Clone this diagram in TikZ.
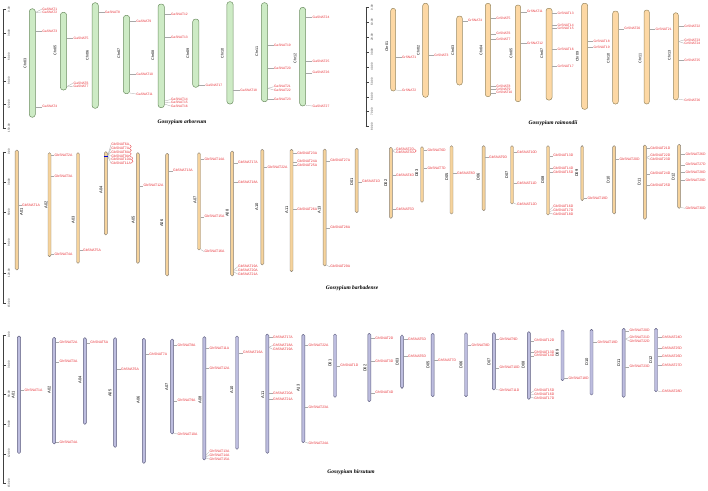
\documentclass[tikz,border=0pt]{standalone}
\usepackage{fontspec}
\setmainfont{Liberation Sans}
\setsansfont{Liberation Sans}
\newfontfamily\lsans{Liberation Sans}
\newfontfamily\serifttl{Liberation Serif}
\definecolor{gfill}{HTML}{CDEBC5}
\definecolor{gdraw}{HTML}{6E8F63}
\definecolor{ofill}{HTML}{FDD8A4}
\definecolor{odraw}{HTML}{9A8A62}
\definecolor{tfill}{HTML}{F6D39C}
\definecolor{tdraw}{HTML}{8C8478}
\definecolor{lfill}{HTML}{BDBDDF}
\definecolor{ldraw}{HTML}{5F5F80}
\definecolor{snred}{HTML}{E8343A}
\definecolor{lead}{HTML}{A8A8A8}
\newcommand\chr[6]{%
  \pgfmathsetmacro\chh{#5-#4}%
  \pgfmathsetmacro\chc{(#4+#5)/2}%
  \node[#6, minimum width=#3pt, minimum height=\chh pt] (#1) at (#2,\chc) {};}
\newcommand\clab[4]{\node[clabel] (#1l) at (#2,#3) {#4};}
\newcommand\gn[5]{%
  \coordinate (yy) at (0,#2);
  \coordinate (#5c) at (#1.east |- yy);
  \node[glab] (#5) at (#3,#4) {#5};
  \draw[leader] (#5c) -- (#5.west);}
\newcommand\rtick[4]{% name, x, y, text
  \coordinate (#1) at (#2,#3);
  \draw[ruler] (#1) -- ++(3.5,0);
  \node[rlabel] (#1t) at (#2+6.3,#3) {#4};}
\tikzset{
  garb/.style={draw=gdraw, fill=gfill, line width=0.5pt, rounded corners=2.9pt, inner sep=0pt},
  grai/.style={draw=odraw, fill=ofill, line width=0.5pt, rounded corners=2.5pt, inner sep=0pt},
  gbar/.style={draw=tdraw, fill=tfill, line width=0.45pt, rounded corners=1.4pt, inner sep=0pt},
  ghir/.style={draw=ldraw, fill=lfill, line width=0.45pt, rounded corners=1.4pt, inner sep=0pt},
  glab/.style={text=snred, font=\lsans\fontsize{3.3}{3.3}\selectfont, anchor=west, inner sep=0.2pt},
  clabel/.style={rotate=90, font=\lsans\fontsize{3.7}{3.7}\selectfont, inner sep=0pt},
  leader/.style={draw=lead, line width=0.3pt},
  ruler/.style={draw=black!75, line width=0.4pt},
  rlabel/.style={rotate=90, font=\lsans\fontsize{2.8}{2.8}\selectfont, inner sep=0pt, text=black!80},
  ttl/.style={font=\serifttl\bfseries\itshape\fontsize{5.5}{5.5}\selectfont, inner sep=0pt},
  dup/.style={draw=snred, line width=0.3pt}
}
\begin{document}
\begin{tikzpicture}[x=1pt,y=-1pt]
\useasboundingbox (0,0) rectangle (708,490);
\fill[white] (0,0) rectangle (708,490);

% ================= Panel 1: G. arboreum =================
\draw[ruler] (2.7,9.3) -- (2.7,128);
\rtick{ra1}{2.7}{9.3}{0.00}
\rtick{ra2}{2.7}{33}{30.00}
\rtick{ra3}{2.7}{56.7}{60.00}
\rtick{ra4}{2.7}{80.7}{90.00}
\rtick{ra5}{2.7}{104.3}{120.00}
\rtick{ra6}{2.7}{128}{150.00}

\chr{C3a}{32.3}{6}{8.7}{117.3}{garb}   \clab{C3a}{25}{63}{Chr03}
\chr{C5a}{63.5}{6.3}{12.3}{90}{garb}   \clab{C5a}{55}{50}{Chr05}
\chr{C6a}{95.2}{6.3}{2.7}{108.3}{garb} \clab{C6a}{87.3}{55}{Chr06}
\chr{C7a}{126.5}{6.3}{15.3}{93.7}{garb} \clab{C7a}{118.7}{53}{Chr07}
\chr{C8a}{161.2}{6.3}{4}{107.7}{garb}  \clab{C8a}{152.7}{55}{Chr08}
\chr{C9a}{195.8}{6.3}{19}{87.3}{garb}  \clab{C9a}{187.7}{53}{Chr09}
\chr{C10a}{230}{6.3}{1.7}{104}{garb}   \clab{C10a}{222.3}{53}{Chr10}
\chr{C11a}{264.5}{6.3}{2.7}{101.7}{garb} \clab{C11a}{256.7}{51.7}{Chr11}
\chr{C12a}{302.7}{6}{7.3}{106}{garb}   \clab{C12a}{295}{58.3}{Chr12}

\gn{C3a}{12.5}{42}{9}{GaSNAT1}
\gn{C3a}{12.5}{42}{12}{GaSNAT2}
\gn{C3a}{31}{42}{31}{GaSNAT3}
\gn{C3a}{106.7}{42}{106.7}{GaSNAT4}
\gn{C5a}{38}{73.3}{38}{GaSNAT5}
\gn{C5a}{86.5}{73.3}{83}{GaSNAT6}
\gn{C5a}{86.5}{73.3}{86.3}{GaSNAT7}
\gn{C6a}{12.3}{104.7}{12.3}{GaSNAT8}
\gn{C7a}{21}{136}{21}{GaSNAT9}
\gn{C7a}{74}{136}{74}{GaSNAT10}
\gn{C7a}{93}{136}{94}{GaSNAT11}
\gn{C8a}{14}{170.7}{14}{GaSNAT12}
\gn{C8a}{37}{170.7}{37}{GaSNAT13}
\gn{C8a}{101}{170.7}{99.5}{GaSNAT14}
\gn{C8a}{102.5}{170.7}{102.8}{GaSNAT15}
\gn{C8a}{104}{170.7}{106.1}{GaSNAT16}
\gn{C9a}{85}{205.3}{85}{GaSNAT17}
\gn{C10a}{90}{240}{90}{GaSNAT18}
\gn{C11a}{45}{273.7}{45}{GaSNAT19}
\gn{C11a}{68.3}{273.7}{68.3}{GaSNAT20}
\gn{C11a}{88.3}{273.7}{86.7}{GaSNAT21}
\gn{C11a}{88.3}{273.7}{89.9}{GaSNAT22}
\gn{C11a}{99}{273.7}{99}{GaSNAT23}
\gn{C12a}{17}{312.3}{17}{GaSNAT24}
\gn{C12a}{61}{312.3}{61}{GaSNAT25}
\gn{C12a}{72.7}{312.3}{72.7}{GaSNAT26}
\gn{C12a}{105.3}{312.3}{106}{GaSNAT27}

\node[ttl] (t1) at (182,122) {Gossypium arboreum};

% right ruler (raimondii scale)
\draw[ruler] (365.7,7.3) -- (365.7,126.7);
\rtick{rb1}{365.7}{7.3}{0.00}
\rtick{rb2}{365.7}{22.2}{10.00}
\rtick{rb3}{365.7}{37.1}{20.00}
\rtick{rb4}{365.7}{52}{30.00}
\rtick{rb5}{365.7}{66.9}{40.00}
\rtick{rb6}{365.7}{81.8}{50.00}
\rtick{rb7}{365.7}{96.7}{60.00}
\rtick{rb8}{365.7}{111.6}{70.00}
\rtick{rb9}{365.7}{126.5}{80.00}

% ================= Panel 2: G. raimondii =================
\chr{R1}{393.2}{5}{8.3}{91}{grai}     \clab{R1}{386.7}{46.7}{Chr01}
\chr{R2}{425.5}{5.6}{3.3}{97.3}{grai} \clab{R2}{418.3}{50}{Chr02}
\chr{R3}{459.5}{5.6}{16}{85}{grai}    \clab{R3}{452.7}{50}{Chr03}
\chr{R4}{488}{5.4}{3.3}{96.7}{grai}   \clab{R4}{481}{50}{Chr04}
\chr{R5}{518}{5.4}{5}{101.7}{grai}    \clab{R5}{511}{53}{Chr05}
\chr{R6}{549}{6}{8.3}{100}{grai}      \clab{R6}{541.7}{53}{Chr07}
\chr{R7}{584.7}{6}{3.3}{109.3}{grai}  \clab{R7}{577.3}{56.7}{Chr09}
\chr{R8}{615.5}{5.6}{11}{104}{grai}   \clab{R8}{608.3}{58.3}{Chr10}
\chr{R9}{646.7}{5.3}{10}{104}{grai}   \clab{R9}{640}{58.3}{Chr11}
\chr{R10}{675.8}{5}{12.7}{100}{grai}  \clab{R10}{669.3}{55}{Chr13}

\gn{R1}{57.3}{401.7}{57.3}{GrSNAT1}
\gn{R1}{90}{401.7}{90.7}{GrSNAT2}
\gn{R2}{55}{434}{55}{GrSNAT3}
\gn{R3}{20.7}{467.7}{20.7}{GrSNAT4}
\gn{R4}{18.3}{496}{18.3}{GrSNAT5}
\gn{R4}{33.7}{496}{33.7}{GrSNAT6}
\gn{R4}{39.3}{496}{39.3}{GrSNAT7}
\gn{R4}{86}{496}{86}{GrSNAT8}
\gn{R4}{89.3}{496}{89.3}{GrSNAT9}
\gn{R4}{92.7}{496}{92.7}{GrSNAT10}
\gn{R5}{11.7}{526.7}{11.7}{GrSNAT11}
\gn{R5}{43.3}{526.7}{43.3}{GrSNAT12}
\gn{R6}{13.3}{557.3}{13.3}{GrSNAT13}
\gn{R6}{25}{557.3}{25}{GrSNAT14}
\gn{R6}{28.3}{557.3}{28.3}{GrSNAT15}
\gn{R6}{49}{557.3}{49}{GrSNAT16}
\gn{R6}{66}{557.3}{66}{GrSNAT17}
\gn{R7}{41.3}{593.3}{41.3}{GrSNAT18}
\gn{R7}{47.3}{593.3}{47.3}{GrSNAT19}
\gn{R8}{28.7}{624}{28.7}{GrSNAT20}
\gn{R9}{29.3}{655.3}{29.3}{GrSNAT21}
\gn{R10}{26}{684}{26}{GrSNAT22}
\gn{R10}{41.5}{684}{40}{GrSNAT23}
\gn{R10}{41.5}{684}{43.3}{GrSNAT24}
\gn{R10}{60}{684}{60}{GrSNAT25}
\gn{R10}{99.3}{684}{100}{GrSNAT26}

\node[ttl] (t2) at (553,123) {Gossypium raimondii};

% ================= Panel 3: G. barbadense =================
\begin{scope}[glab/.style={text=snred, font=\lsans\fontsize{3.45}{3.45}\selectfont, anchor=west, inner sep=0.2pt},
              clabel/.style={rotate=90, font=\lsans\fontsize{4}{4}\selectfont, inner sep=0pt}]
\draw[ruler] (2.7,151.7) -- (2.7,303.3);
\rtick{rc1}{2.7}{151.7}{0.00}
\rtick{rc2}{2.7}{182}{30.00}
\rtick{rc3}{2.7}{212.4}{60.00}
\rtick{rc4}{2.7}{242.7}{90.00}
\rtick{rc5}{2.7}{273}{120.00}
\rtick{rc6}{2.7}{303.3}{150.00}

\chr{A01b}{16.8}{3.2}{150}{270}{gbar}   \clab{A01b}{21.5}{211.7}{A01}
\chr{A02b}{49.5}{3}{152.7}{256.7}{gbar} \clab{A02b}{46}{205}{A02}
\chr{A03b}{78}{3}{152.7}{263.3}{gbar}   \clab{A03b}{73.3}{220}{A03}
\chr{A04b}{105.8}{3}{151.7}{235}{gbar}  \clab{A04b}{101}{190}{A04}
\chr{A05b}{137.8}{3}{152.7}{263.3}{gbar} \clab{A05b}{133.3}{220}{A05}
\chr{A06b}{167.2}{3}{153.3}{276}{gbar}  \clab{A06b}{161.7}{223.3}{A06}
\chr{A07b}{199}{3}{152.7}{250}{gbar}    \clab{A07b}{195}{200}{A07}
\chr{A08b}{232.2}{3}{151}{276}{gbar}    \clab{A08b}{227.3}{213.3}{A08}
\chr{A10b}{262.3}{3}{149.3}{265}{gbar}  \clab{A10b}{256.7}{206.7}{A10}
\chr{A11b}{291.5}{3}{149.3}{271.7}{gbar} \clab{A11b}{286.7}{210}{A11}
\chr{A13b}{324.7}{3}{149}{266}{gbar}    \clab{A13b}{319.3}{210}{A13}
\chr{D01b}{356.7}{3}{148.3}{212.7}{gbar} \clab{D01b}{351.7}{181.7}{D01}
\chr{D02b}{390.8}{3}{147.3}{218.3}{gbar} \clab{D02b}{385.7}{183.3}{D02}
\chr{D03b}{422}{3}{146.7}{202.3}{gbar}  \clab{D03b}{416.7}{173.3}{D03}
\chr{D05b}{451.5}{3}{145.7}{214}{gbar}  \clab{D05b}{446.7}{176.7}{D05}
\chr{D06b}{483.7}{3}{145.7}{210.7}{gbar} \clab{D06b}{478.3}{176.7}{D06}
\chr{D07b}{512}{3}{145.7}{204}{gbar}    \clab{D07b}{506.7}{175}{D07}
\chr{D08b}{548}{3}{145.7}{215}{gbar}    \clab{D08b}{542.7}{180}{D08}
\chr{D09b}{582.2}{2.6}{145.7}{200.7}{gbar} \clab{D09b}{576.7}{173.3}{D09}
\chr{D10b}{614.2}{3}{145.7}{214}{gbar}  \clab{D10b}{608.3}{180}{D10}
\chr{D11b}{644.8}{3}{145}{219.3}{gbar}  \clab{D11b}{639.3}{181.7}{D11}
\chr{D12b}{679.2}{3}{144.3}{208.3}{gbar} \clab{D12b}{673.3}{176.7}{D12}

\gn{A01b}{205}{21.7}{205}{GbSNAT1A}
\gn{A02b}{155}{54.3}{155}{GbSNAT2A}
\gn{A02b}{176}{54.3}{176}{GbSNAT3A}
\gn{A02b}{254.3}{54.3}{254.3}{GbSNAT4A}
\gn{A03b}{250}{82.7}{250}{GbSNAT5A}
\gn{A04b}{156}{111}{144.7}{GbSNAT6A}
\gn{A04b}{156}{111}{148.4}{GbSNAT7A}
\gn{A04b}{156}{111}{152.1}{GbSNAT8A}
\gn{A04b}{156}{111}{155.8}{GbSNAT9A}
\gn{A04b}{156}{111}{159.5}{GbSNAT10A}
\gn{A04b}{156}{111}{163.2}{GbSNAT11A}
\gn{A05b}{185.7}{143.3}{185.7}{GbSNAT12A}
\gn{A06b}{170.7}{172.7}{170.7}{GbSNAT13A}
\gn{A07b}{159.3}{204.3}{159.3}{GbSNAT14A}
\gn{A07b}{216.7}{204.3}{216.7}{GbSNAT15A}
\gn{A07b}{249.5}{204.3}{251.7}{GbSNAT16A}
\gn{A08b}{162.7}{237.7}{162.7}{GbSNAT17A}
\gn{A08b}{182.3}{237.7}{182.3}{GbSNAT18A}
\gn{A08b}{270}{237.7}{266.7}{GbSNAT19A}
\gn{A08b}{271}{237.7}{270.4}{GbSNAT20A}
\gn{A08b}{272}{237.7}{274.1}{GbSNAT21A}
\gn{A10b}{167.3}{267.3}{167.3}{GbSNAT22A}
\gn{A11b}{153.3}{297}{153.3}{GbSNAT23A}
\gn{A11b}{161.7}{297}{161.7}{GbSNAT24A}
\gn{A11b}{165.3}{297}{165.3}{GbSNAT25A}
\gn{A11b}{209.3}{297}{209.3}{GbSNAT26A}
\gn{A13b}{160.7}{330}{160.7}{GbSNAT27A}
\gn{A13b}{227.7}{330}{227.7}{GbSNAT28A}
\gn{A13b}{265.3}{330}{266.7}{GbSNAT29A}
\gn{D01b}{181.7}{361.7}{181.7}{GbSNAT1D}
\gn{D02b}{150.8}{395.7}{149}{GbSNAT2D}
\gn{D02b}{150.8}{395.7}{152.7}{GbSNAT3D}
\gn{D02b}{175.3}{395.7}{175.3}{GbSNAT4D}
\gn{D02b}{209.3}{395.7}{209.3}{GbSNAT5D}
\gn{D03b}{150}{427.3}{150}{GbSNAT6D}
\gn{D03b}{168}{427.3}{168}{GbSNAT7D}
\gn{D05b}{173.3}{456.7}{173.3}{GbSNAT8D}
\gn{D06b}{157.3}{488.7}{157.3}{GbSNAT9D}
\gn{D07b}{152.3}{516.7}{152.3}{GbSNAT10D}
\gn{D07b}{183.3}{516.7}{183.3}{GbSNAT11D}
\gn{D07b}{203.3}{516.7}{204.3}{GbSNAT12D}
\gn{D08b}{155.7}{553}{155.7}{GbSNAT13D}
\gn{D08b}{168.3}{553}{168.3}{GbSNAT14D}
\gn{D08b}{172.3}{553}{172.3}{GbSNAT15D}
\gn{D08b}{210}{553}{206.7}{GbSNAT16D}
\gn{D08b}{211.5}{553}{210.4}{GbSNAT17D}
\gn{D08b}{213}{553}{214.1}{GbSNAT18D}
\gn{D09b}{198.3}{587.3}{198.3}{GbSNAT19D}
\gn{D10b}{159.3}{619.3}{159.3}{GbSNAT20D}
\gn{D11b}{148.3}{650}{148.3}{GbSNAT21D}
\gn{D11b}{157.5}{650}{155.7}{GbSNAT22D}
\gn{D11b}{157.5}{650}{159.4}{GbSNAT23D}
\gn{D11b}{173.7}{650}{173.7}{GbSNAT24D}
\gn{D11b}{185}{650}{185}{GbSNAT25D}
\gn{D12b}{154}{685.3}{154}{GbSNAT26D}
\gn{D12b}{164.7}{685.3}{164.7}{GbSNAT27D}
\gn{D12b}{172.3}{685.3}{172.3}{GbSNAT28D}
\gn{D12b}{180}{685.3}{180}{GbSNAT29D}
\gn{D12b}{207.5}{685.3}{208.3}{GbSNAT30D}
\end{scope}

% tandem links
\draw[dup] (GbSNAT6A.east) to[out=0,in=0,looseness=1.6] (GbSNAT7A.east);
\draw[dup] (GbSNAT7A.east) to[out=0,in=0,looseness=1.6] (GbSNAT8A.east);
\draw[dup] (GbSNAT8A.east) to[out=0,in=0,looseness=1.6] (GbSNAT9A.east);
\draw[dup] (GbSNAT9A.east) to[out=0,in=0,looseness=1.6] (GbSNAT10A.east);
\draw[dup] (GbSNAT10A.east) to[out=0,in=0,looseness=1.6] (GbSNAT11A.east);
\draw[dup] (GbSNAT2D.east) to[out=0,in=0,looseness=1.6] (GbSNAT3D.east);
\draw[blue!80!black, line width=0.5pt] (104,156) -- (107.6,156);

\node[ttl] (t3) at (352,288.5) {Gossypium barbadense};

% ================= Panel 4: G. hirsutum =================
\begin{scope}[glab/.style={text=snred, font=\lsans\fontsize{3.45}{3.45}\selectfont, anchor=west, inner sep=0.2pt},
              clabel/.style={rotate=90, font=\lsans\fontsize{4}{4}\selectfont, inner sep=0pt}]
\draw[ruler] (2.7,335) -- (2.7,483.3);
\rtick{rd1}{2.7}{335}{0.00}
\rtick{rd2}{2.7}{364.7}{30.00}
\rtick{rd3}{2.7}{394.3}{60.00}
\rtick{rd4}{2.7}{424}{90.00}
\rtick{rd5}{2.7}{453.7}{120.00}
\rtick{rd6}{2.7}{483.3}{150.00}

\chr{A01h}{19}{3.4}{336}{453.3}{ghir}    \clab{A01h}{13.3}{395}{A01}
\chr{A02h}{54.2}{3}{337.3}{444}{ghir}    \clab{A02h}{49.3}{390}{A02}
\chr{A04h}{84.8}{3}{337.7}{424.3}{ghir}  \clab{A04h}{80}{380}{A04}
\chr{A05h}{115.2}{3}{337.7}{447.3}{ghir} \clab{A05h}{110}{393.3}{A05}
\chr{A06h}{143.8}{3}{338.3}{463.3}{ghir} \clab{A06h}{138.3}{400}{A06}
\chr{A07h}{172.2}{3}{339}{434}{ghir}     \clab{A07h}{166.7}{386.7}{A07}
\chr{A08h}{204.3}{3}{336.7}{460}{ghir}   \clab{A08h}{200}{400}{A08}
\chr{A10h}{237}{3}{336}{449.3}{ghir}     \clab{A10h}{231.7}{390}{A10}
\chr{A11h}{267.3}{3}{334}{453.3}{ghir}   \clab{A11h}{262.7}{395}{A11}
\chr{A13h}{303.3}{3}{334.3}{442.7}{ghir} \clab{A13h}{298.3}{388.3}{A13}
\chr{D01h}{335}{3}{334}{397.3}{ghir}     \clab{D01h}{330}{363.3}{D01}
\chr{D02h}{369.3}{3}{333.3}{401.7}{ghir} \clab{D02h}{365}{368.3}{D02}
\chr{D03h}{402}{2.6}{335}{388.3}{ghir}   \clab{D03h}{397.3}{361.7}{D03}
\chr{D05h}{432.7}{3}{333.3}{396.7}{ghir} \clab{D05h}{428}{365}{D05}
\chr{D06h}{466}{3}{332.7}{396.7}{ghir}   \clab{D06h}{461}{365}{D06}
\chr{D07h}{493.8}{3}{332.7}{390}{ghir}   \clab{D07h}{489}{361.7}{D07}
\chr{D08h}{528.8}{3}{331.7}{399.3}{ghir} \clab{D08h}{523.3}{365}{D08}
\chr{D09h}{562.5}{3}{330}{380.7}{ghir}   \clab{D09h}{557.3}{353.3}{D09}
\chr{D10h}{591.5}{3}{329.3}{395}{ghir}   \clab{D10h}{586.7}{361.7}{D10}
\chr{D11h}{623.7}{3}{328.3}{397.3}{ghir} \clab{D11h}{618.7}{362.7}{D11}
\chr{D12h}{656}{3}{328.3}{391.7}{ghir}   \clab{D12h}{650.7}{360}{D12}

\gn{A01h}{390}{24.3}{390}{GhSNAT1A}
\gn{A02h}{342}{59.3}{342}{GhSNAT2A}
\gn{A02h}{361.7}{59.3}{361.7}{GhSNAT3A}
\gn{A02h}{442.3}{59.3}{442.3}{GhSNAT4A}
\gn{A04h}{342.7}{90}{342.7}{GhSNAT5A}
\gn{A05h}{369.3}{120.7}{369.3}{GhSNAT6A}
\gn{A06h}{354.3}{149}{354.3}{GhSNAT7A}
\gn{A07h}{345}{177.3}{345}{GhSNAT8A}
\gn{A07h}{400.7}{177.3}{400.7}{GhSNAT9A}
\gn{A07h}{433.3}{177.3}{434}{GhSNAT10A}
\gn{A08h}{348.3}{209.3}{348.3}{GhSNAT11A}
\gn{A08h}{368.3}{209.3}{368.3}{GhSNAT12A}
\gn{A08h}{455}{209.3}{451.7}{GhSNAT13A}
\gn{A08h}{456.5}{209.3}{455.4}{GhSNAT14A}
\gn{A08h}{458}{209.3}{459.1}{GhSNAT15A}
\gn{A10h}{352.7}{242.7}{352.7}{GhSNAT16A}
\gn{A11h}{337.3}{272.7}{337.3}{GhSNAT17A}
\gn{A11h}{347.3}{272.7}{345.3}{GhSNAT18A}
\gn{A11h}{347.3}{272.7}{349.3}{GhSNAT19A}
\gn{A11h}{393.3}{272.7}{393.3}{GhSNAT20A}
\gn{A11h}{399.3}{272.7}{399.3}{GhSNAT21A}
\gn{A13h}{345}{308.3}{345}{GhSNAT22A}
\gn{A13h}{407.3}{308.3}{407.3}{GhSNAT23A}
\gn{A13h}{442}{308.3}{443.3}{GhSNAT24A}
\gn{D01h}{365.7}{340}{365.7}{GhSNAT1D}
\gn{D02h}{338.3}{375}{338.3}{GhSNAT2D}
\gn{D02h}{361}{375}{361}{GhSNAT3D}
\gn{D02h}{392.7}{375}{392.7}{GhSNAT4D}
\gn{D03h}{339}{407.7}{339}{GhSNAT5D}
\gn{D03h}{356}{407.7}{356}{GhSNAT6D}
\gn{D05h}{360}{437.7}{360}{GhSNAT7D}
\gn{D06h}{345}{471.3}{345}{GhSNAT8D}
\gn{D07h}{339}{499.3}{339}{GhSNAT9D}
\gn{D07h}{367.7}{499.3}{367.7}{GhSNAT10D}
\gn{D07h}{389.5}{499.3}{390}{GhSNAT11D}
\gn{D08h}{340.7}{534}{340.7}{GhSNAT12D}
\gn{D08h}{352}{534}{352}{GhSNAT13D}
\gn{D08h}{355.7}{534}{355.7}{GhSNAT14D}
\gn{D08h}{393}{534}{390.7}{GhSNAT15D}
\gn{D08h}{395}{534}{394.4}{GhSNAT16D}
\gn{D08h}{397}{534}{398.1}{GhSNAT17D}
\gn{D09h}{378.3}{568.3}{378.3}{GhSNAT18D}
\gn{D10h}{342.3}{597.3}{342.3}{GhSNAT19D}
\gn{D11h}{330.7}{629.3}{330.7}{GhSNAT20D}
\gn{D11h}{339}{629.3}{337.3}{GhSNAT21D}
\gn{D11h}{339}{629.3}{341}{GhSNAT22D}
\gn{D11h}{366.7}{629.3}{366.7}{GhSNAT23D}
\gn{D12h}{337.3}{661.7}{337.3}{GhSNAT24D}
\gn{D12h}{348.3}{661.7}{348.3}{GhSNAT25D}
\gn{D12h}{356}{661.7}{356}{GhSNAT26D}
\gn{D12h}{365}{661.7}{365}{GhSNAT27D}
\gn{D12h}{391}{661.7}{391.7}{GhSNAT28D}
\end{scope}

\node[ttl] (t4) at (351,471.7) {Gossypium hirsutum};
\end{tikzpicture}
\end{document}
